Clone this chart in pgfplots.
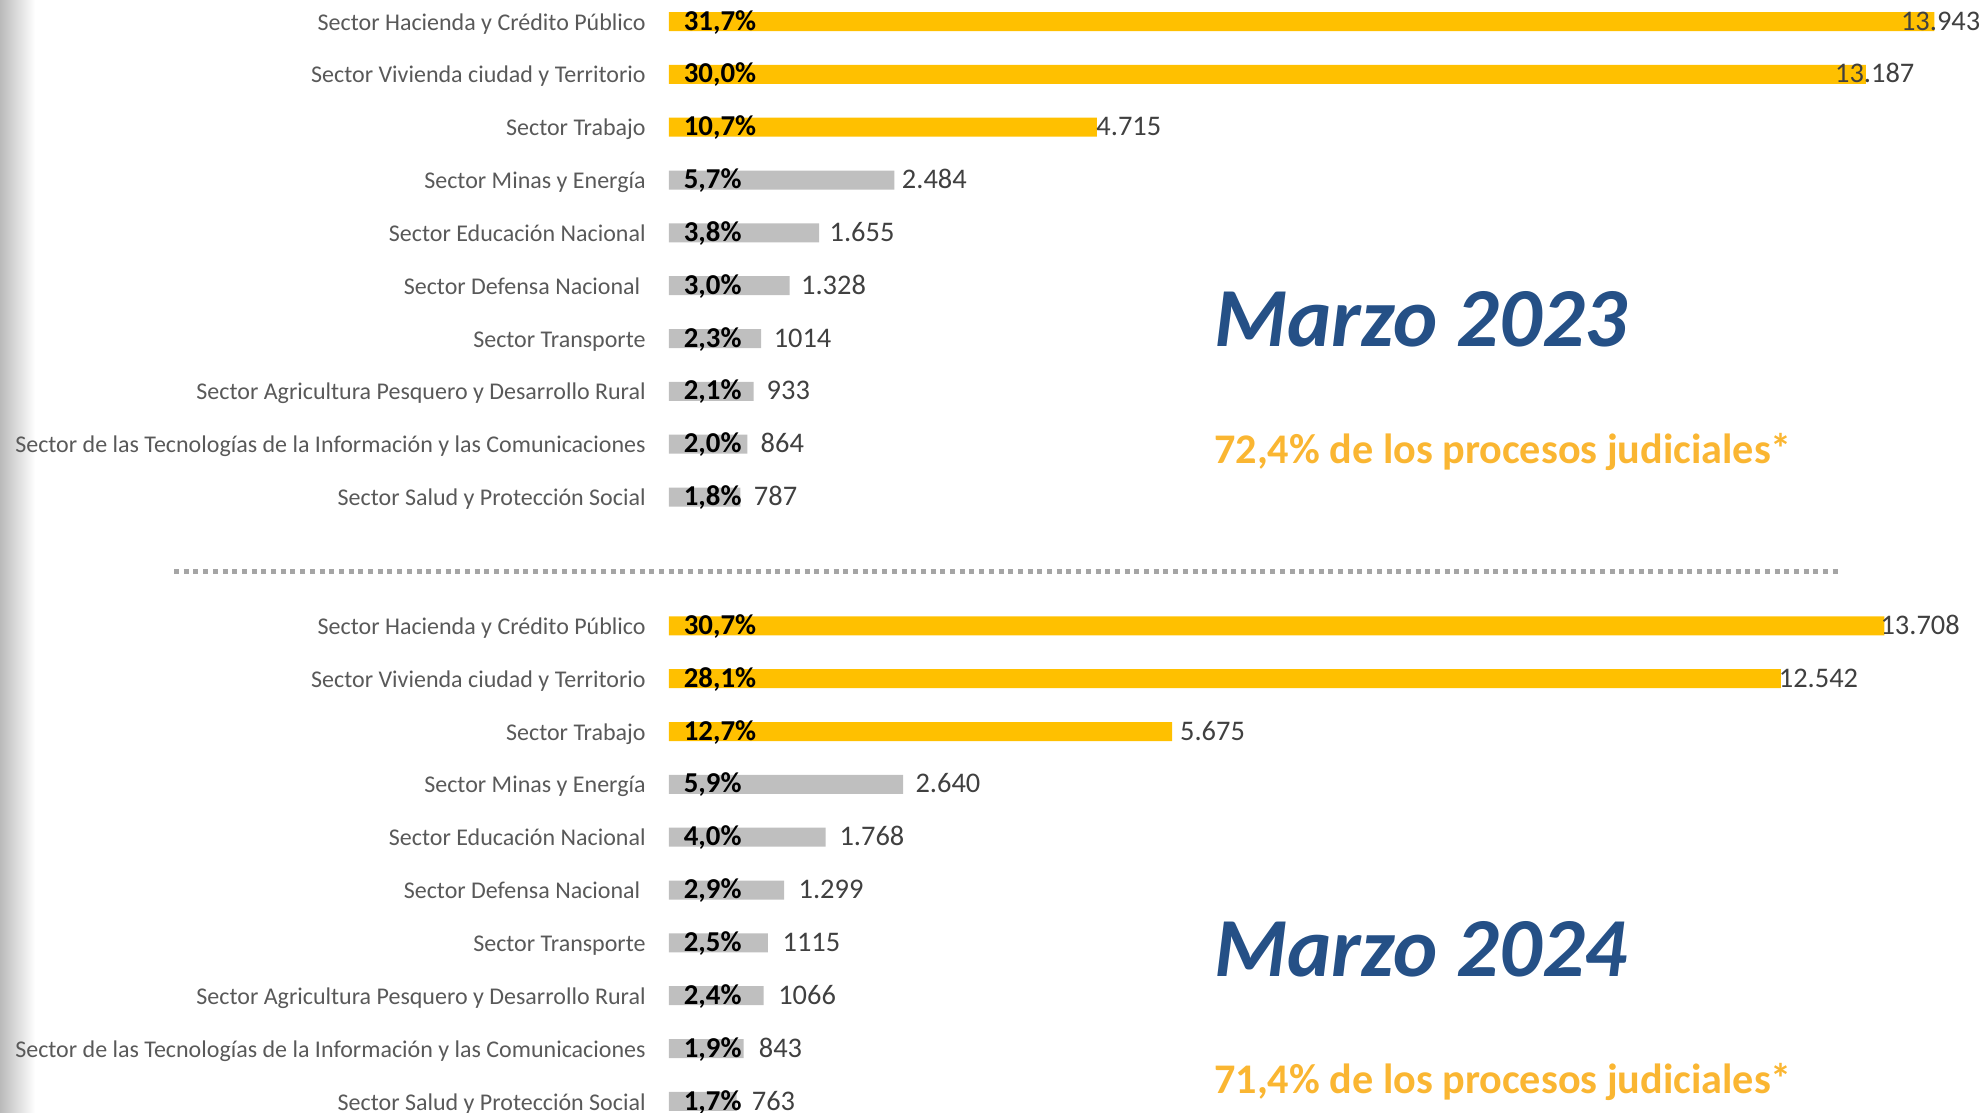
\documentclass[border=0pt]{standalone}
\usepackage{fontspec}
\setmainfont{Carlito}
\usepackage{pgfplots}
\usepackage{pgfplotstable}
\pgfplotsset{compat=1.18}

\definecolor{oro}{HTML}{FFC000}
\definecolor{barragris}{HTML}{BFBFBF}
\definecolor{etiq}{HTML}{595959}
\definecolor{valor}{HTML}{404040}
\definecolor{azul}{HTML}{255086}
\definecolor{naranja}{HTML}{FAB632}
\definecolor{puntos}{HTML}{A5A5A5}

% marzo 2023
\pgfplotstableread{
idx v pct lab
0 13943 31,7 13.943
1 13187 30,0 13.187
2 4715 10,7 4.715
3 2484 5,7 2.484
4 1655 3,8 1.655
5 1328 3,0 1.328
6 1014 2,3 1014
7 933 2,1 933
8 864 2,0 864
9 787 1,8 787
}\tablaA

% marzo 2024
\pgfplotstableread{
idx v pct lab
0 13708 30,7 13.708
1 12542 28,1 12.542
2 5675 12,7 5.675
3 2640 5,9 2.640
4 1768 4,0 1.768
5 1299 2,9 1.299
6 1115 2,5 1115
7 1066 2,4 1066
8 843 1,9 843
9 763 1,7 763
}\tablaB

\pgfplotsset{
  sectores/.style={
    scale only axis, width=657pt, height=264.2pt,
    xmin=0, ymin=-0.5, ymax=9.5, y dir=reverse,
    axis line style={draw=none}, tick style={draw=none},
    xtick=\empty, ytick={0,...,9},
    yticklabels={Sector Hacienda y Crédito Público,
      Sector Vivienda ciudad y Territorio,
      Sector Trabajo,
      Sector Minas y Energía,
      Sector Educación Nacional,
      {Sector Defensa Nacional\kern2.7pt},
      Sector Transporte,
      Sector Agricultura Pesquero y Desarrollo Rural,
      Sector de las Tecnologías de la Información y las Comunicaciones,
      Sector Salud y Protección Social},
    yticklabel style={font=\fontsize{12}{14}\selectfont, text=etiq,
      inner sep=0pt, text height=0.64em, text depth=0pt, xshift=-11.5pt, yshift=-1.1pt},
    clip=false,
  },
  barra/.style={xbar, bar width=9.5pt, draw=none, fill=#1},
  pct/.style={draw=none, mark=none, nodes near coords={\pgfplotspointmeta\%},
    point meta=explicit symbolic,
    every node near coord/.append style={anchor=west, inner sep=0pt, xshift=7.25pt, yshift=-1.1pt,
      font=\fontsize{14.4}{17}\selectfont\bfseries, text=black,
      text height=0.64em, text depth=0pt}},
  val/.style={draw=none, mark=none, nodes near coords,
    point meta=explicit symbolic,
    every node near coord/.append style={anchor=west, inner sep=0pt, yshift=-1.1pt,
      font=\fontsize{14.2}{17}\selectfont, text=valor,
      text height=0.64em, text depth=0pt}},
}

\begin{document}
\begin{tikzpicture}
\path[use as bounding box, clip] (0,0) rectangle (991.5pt,-556.5pt);
\shade[left color=black!27, right color=white] (0,0) rectangle (17.5pt,-556.5pt);

\begin{axis}[sectores, xmax=14478, at={(334.5pt,2.46pt)}, anchor=north west]
\addplot[barra=oro, restrict y to domain=0:2] table[x=v, y=idx]{\tablaA};
\addplot[barra=barragris, restrict y to domain=3:9] table[x=v, y=idx]{\tablaA};
\addplot[pct] table[x expr=0, y=idx, meta=pct]{\tablaA};
\addplot[val] table[x expr=176+0.9607*\thisrow{v}, y=idx, meta=lab]{\tablaA};
\end{axis}

\begin{axis}[sectores, xmax=14821, at={(334.5pt,-299.7pt)}, anchor=north west]
\addplot[barra=oro, restrict y to domain=0:2] table[x=v, y=idx]{\tablaB};
\addplot[barra=barragris, restrict y to domain=3:9] table[x=v, y=idx]{\tablaB};
\addplot[pct] table[x expr=0, y=idx, meta=pct]{\tablaB};
\addplot[val] table[x expr=180.5+0.9834*\thisrow{v}, y=idx, meta=lab]{\tablaB};
\end{axis}

\draw[puntos, line width=2.5pt, dash pattern=on 2.5pt off 2.35pt] (87pt,-285.5pt) -- (920pt,-285.5pt);

\node[anchor=base west, inner sep=0pt, text=azul, font=\fontsize{42}{50}\selectfont\bfseries\itshape]
  at (606.9pt,-173.4pt) {Marzo 2023};
\node[anchor=base west, inner sep=0pt, text=naranja, font=\fontsize{21.1}{25}\selectfont\bfseries]
  at (606.9pt,-231.6pt) {72,4\% de los procesos judiciales*};
\node[anchor=base west, inner sep=0pt, text=azul, font=\fontsize{42}{50}\selectfont\bfseries\itshape]
  at (606.9pt,-488.4pt) {Marzo 2024};
\node[anchor=base west, inner sep=0pt, text=naranja, font=\fontsize{21.1}{25}\selectfont\bfseries]
  at (606.9pt,-546.6pt) {71,4\% de los procesos judiciales*};
\end{tikzpicture}
\end{document}
